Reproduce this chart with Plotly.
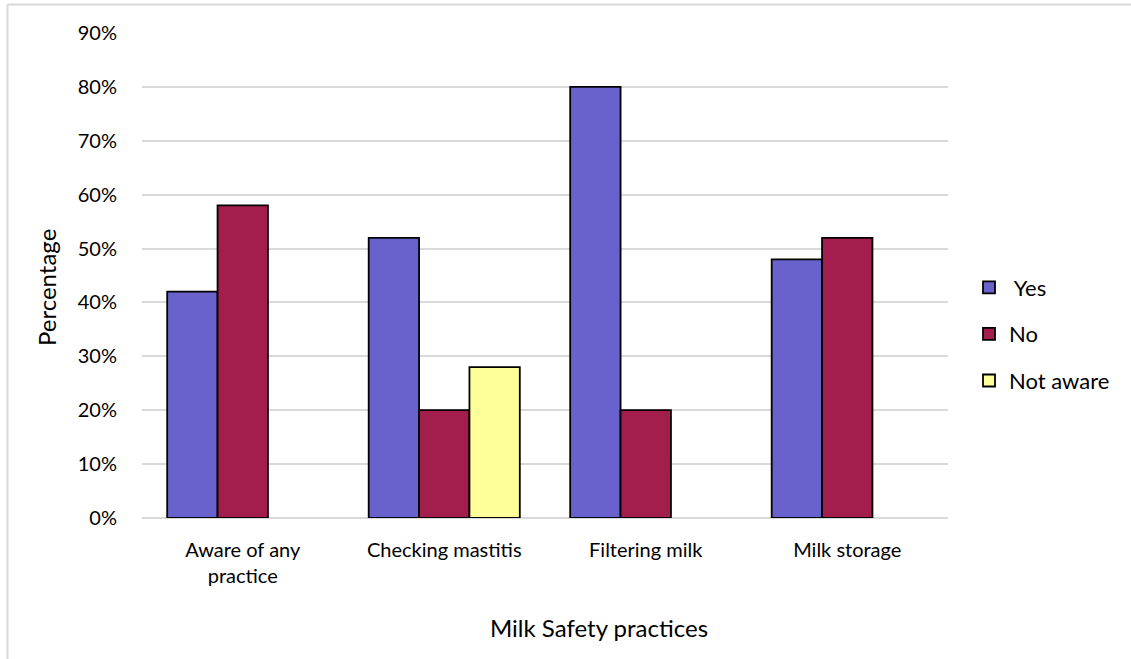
import plotly.graph_objects as go

# Survey results on milk safety practices (percent of respondents)
categories = ["Aware of any<br>practice", "Checking mastitis", "Filtering milk", "Milk storage"]
yes_pct = [42, 52, 80, 48]
no_pct = [58, 20, 20, 52]
not_aware_pct = [None, 28, None, None]

series = [
    (" Yes", yes_pct, "#6A62CC"),
    ("No", no_pct, "#A31E4C"),
    ("Not aware", not_aware_pct, "#FFFF99"),
]

FONT = "Lato"

# Plot-area geometry in pixels (used to place titles and the frame)
PL, PR, PT, PB = 142, 948, 33, 518
PW, PH = PR - PL, PB - PT


def px_x(px):
    return (px - PL) / PW


def px_y(py):
    return (PB - py) / PH


fig = go.Figure()
for i, (name, vals, color) in enumerate(series):
    fig.add_trace(go.Bar(
        name=name,
        x=categories,
        y=[None if v is None else v / 100 for v in vals],
        marker=dict(color=color, line=dict(color="#000000", width=1.8)),
        legendgroup=f"g{i}",
    ))

fig.update_layout(
    width=1131,
    height=659,
    barmode="group",
    bargap=0.25,
    bargroupgap=0,
    plot_bgcolor="white",
    paper_bgcolor="white",
    font=dict(family=FONT, size=20, color="#000000"),
    margin=dict(l=PL, r=1131 - PR, t=PT, b=659 - PB),
    showlegend=True,
    legend=dict(
        x=px_x(969), y=px_y(334), xanchor="left", yanchor="middle",
        font=dict(family=FONT, size=22),
        traceorder="grouped",
        tracegroupgap=15,
        itemwidth=30,
    ),
    xaxis=dict(
        showgrid=False,
        showline=False,
        ticks="outside",
        ticklen=14,
        tickcolor="rgba(0,0,0,0)",
        tickfont=dict(size=20),
    ),
    yaxis=dict(
        range=[0, 0.9],
        dtick=0.1,
        tickformat=".0%",
        showgrid=True,
        gridcolor="#D9D9D9",
        gridwidth=1.5,
        zeroline=True,
        zerolinecolor="#D9D9D9",
        zerolinewidth=1.5,
        ticks="outside",
        ticklen=20,
        tickcolor="rgba(0,0,0,0)",
        tickfont=dict(size=20),
    ),
)

# Axis titles
fig.add_annotation(text="Milk Safety practices", xref="paper", yref="paper",
                   x=px_x(599), y=px_y(627), xanchor="center", yanchor="middle",
                   showarrow=False, font=dict(size=24))
fig.add_annotation(text="Percentage", xref="paper", yref="paper",
                   x=px_x(46), y=px_y(288), xanchor="center", yanchor="middle",
                   textangle=-90, showarrow=False, font=dict(size=24))

# Light outer frame around the chart area
fx0 = px_x(7.5)
fy0 = px_y(4.5)
fig.add_shape(type="line", xref="paper", yref="paper",
              x0=fx0, y0=fy0, x1=1.3, y1=fy0,
              line=dict(color="#D9D9D9", width=2))
fig.add_shape(type="line", xref="paper", yref="paper",
              x0=fx0, y0=fy0, x1=fx0, y1=-0.4,
              line=dict(color="#D9D9D9", width=2))

fig.write_html("out.html")
